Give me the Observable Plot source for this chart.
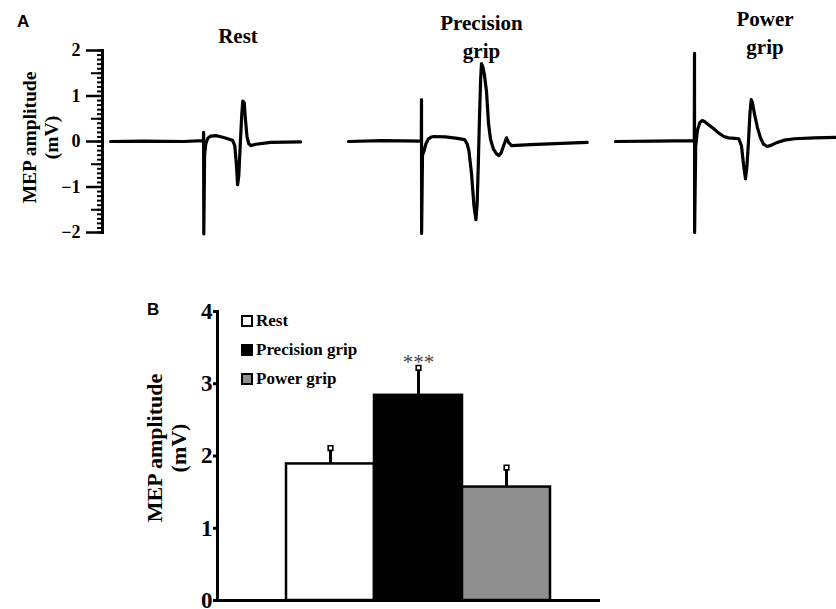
<!DOCTYPE html>
<html>
<head>
<meta charset="utf-8">
<script src="https://cdn.jsdelivr.net/npm/d3@7"></script>
<script src="https://cdn.jsdelivr.net/npm/@observablehq/plot@0.6"></script>
<style>
  body { margin: 0; background: #fff; }
  #root { position: relative; width: 836px; height: 609px; overflow: hidden; font-family: "Liberation Serif", "Times New Roman", serif; color: #000; }
  .abs { position: absolute; }
  .panel { font-family: "Liberation Sans", Arial, sans-serif; font-weight: bold; font-size: 17px; line-height: 1; }
  .title { font-weight: bold; font-size: 21px; text-align: center; line-height: 28px; white-space: nowrap; }
  .ylab { font-weight: bold; text-align: center; white-space: nowrap; transform: rotate(-90deg); transform-origin: 50% 50%; }
  .leg { display: flex; align-items: center; height: 18px; font-weight: bold; font-size: 17px; white-space: nowrap; }
  .sw { width: 8px; height: 8px; border: 2px solid #000; margin-right: 3px; }
  svg { overflow: visible; }
  svg text { font-family: "Liberation Serif", "Times New Roman", serif; }
</style>
</head>
<body>
<div id="root"></div>
<script>
// ---------- Panel A: MEP traces (time in ms relative to stimulus, amplitude in mV) ----------
const restTime = [-46.6, -30, -10, -0.2, -0.1, 0, 0.4, 1, 2, 3.5, 6, 9, 12, 14.5, 15.5, 16.3, 16.9, 17.5, 18.3, 19, 19.5, 20.2, 20.8, 21.6, 22.5, 23.5, 26, 33.4, 48.4];
const restMV   = [0, 0.01, 0, 0.02, 0.2, -2.03, -0.3, -0.05, 0.07, 0.12, 0.13, 0.1, 0.06, 0.02, -0.1, -0.5, -0.95, -0.75, 0, 0.6, 0.89, 0.85, 0.5, 0.1, -0.05, -0.09, -0.06, -0.02, -0.01];

const precisionTime = [-36.5, -20, -0.1, 0, 0.05, 0.5, 1.2, 2.2, 3.5, 5, 6.2, 12, 18, 21.5, 22.8, 23.7, 25, 26.2, 27.2, 27.8, 28.4, 29, 29.6, 30, 30.6, 31.5, 32.5, 33.5, 34.5, 36, 37.5, 38.7, 39.8, 41, 42.5, 43.5, 45, 54.5, 70, 82.85];
const precisionMV   = [0, 0.02, 0.01, 0.92, -2.02, -0.3, -0.22, -0.05, 0.06, 0.1, 0.11, 0.1, 0.07, 0.04, -0.05, -0.2, -0.7, -1.4, -1.72, -1.4, -0.5, 0.54, 1.4, 1.71, 1.65, 1.45, 1.1, 0.4, 0.05, -0.17, -0.27, -0.31, -0.25, -0.1, 0.08, -0.02, -0.09, -0.07, -0.04, -0.02];

const powerTime = [-39.5, -20, -0.1, 0, 0.05, 0.6, 1.5, 2.7, 3.85, 5, 7, 9.65, 12, 14.65, 17, 20, 22.15, 23.5, 24.5, 25.5, 26.2, 27, 27.7, 28.35, 29, 30, 31.5, 33, 34.5, 36.35, 38.5, 41.35, 45, 50, 60, 71];
const powerMV   = [0, 0.01, 0.02, 1.94, -2.0, -0.1, 0.25, 0.42, 0.46, 0.44, 0.37, 0.28, 0.19, 0.11, 0.08, 0.07, 0.06, -0.1, -0.5, -0.82, -0.55, 0, 0.6, 0.92, 0.85, 0.6, 0.3, 0.08, -0.06, -0.11, -0.08, -0.02, 0.03, 0.06, 0.08, 0.09];

const traceTitles = ["Rest", "Precision grip", "Power grip"];
const majorTicksA = [-2, -1, 0, 1, 2];
const halfTicksA = [-1.5, -0.5, 0.5, 1.5];
const minorTicksA = d3.ticks(-2, 2, 40);

// ---------- Panel B: mean MEP amplitude ----------
const conditions = ["Rest", "Precision grip", "Power grip"];
const meanMEP = [1.89, 2.84, 1.57];
const errMEP  = [0.22, 0.38, 0.27];
const sigLabels = ["", "***", ""];
const ticksB = [0, 1, 2, 3, 4];
const barColors = ["#ffffff", "#000000", "#8f8f8f"];

const root = document.getElementById("root");
const serif = "Liberation Serif";
const minus = d => d < 0 ? "\u2212" + (-d) : String(d);
const blank = () => "";

function place(el, left, top, width) {
  const w = document.createElement("div");
  w.className = "abs";
  w.style.left = left + "px";
  w.style.top = top + "px";
  if (width) w.style.width = width + "px";
  w.appendChild(el);
  root.appendChild(w);
  return w;
}

function tracePlot(time, mv, width, marginLeft, domain, withAxis) {
  const data = time.map((t, i) => ({t, v: mv[i]}));
  const marks = [];
  if (withAxis) {
    marks.push(
      Plot.axisY(minorTicksA, {tickSize: 5, strokeWidth: 2, tickFormat: blank, label: null}),
      Plot.axisY(halfTicksA, {tickSize: 11, strokeWidth: 2, tickFormat: blank, label: null}),
      Plot.axisY(majorTicksA, {tickSize: 16, strokeWidth: 2.5, tickPadding: 6, tickFormat: minus, label: null,
        fontSize: 18, fontWeight: "bold", fontFamily: serif, color: "#000"}),
      Plot.frame({anchor: "left", strokeWidth: 3})
    );
  }
  marks.push(Plot.line(data, {x: "t", y: "v", stroke: "#000", strokeWidth: 3.2, strokeLinejoin: "round", strokeLinecap: "round"}));
  return Plot.plot({
    width, height: 240,
    marginLeft, marginRight: 0, marginTop: 50, marginBottom: 8,
    x: {domain, axis: null},
    y: {domain: [-2, 2], axis: null},
    style: {overflow: "visible", background: "transparent", color: "#000", fontFamily: serif, fontWeight: "bold"},
    marks
  });
}

place(tracePlot(restTime, restMV, 302, 102, [-50.65, 49.35], true), 0, 0, 302);
place(tracePlot(precisionTime, precisionMV, 260, 0, [-40.5, 89.5], false), 340, 0, 260);
place(tracePlot(powerTime, powerMV, 232, 0, [-45, 71], false), 604, 0, 232);

// Titles for traces
function addTitle(html, cx, top) {
  const d = document.createElement("div");
  d.className = "title";
  d.innerHTML = html;
  place(d, cx - 70, top, 140);
}
addTitle(traceTitles[0], 238, 22);
addTitle(traceTitles[1].replace(" ", "<br>"), 481.5, 9);
addTitle(traceTitles[2].replace(" ", "<br>"), 765, 5);

// Panel letters
function addText(cls, text, left, top) {
  const d = document.createElement("div");
  d.className = cls;
  d.textContent = text;
  place(d, left, top);
}
addText("panel", "A", 17, 13);
addText("panel", "B", 147, 301);

// Y labels
function addYLabel(cx, cy, fontSize, lineH, width) {
  const d = document.createElement("div");
  d.className = "ylab";
  d.style.fontSize = fontSize + "px";
  d.style.lineHeight = lineH + "px";
  d.style.width = width + "px";
  d.style.height = (2 * lineH) + "px";
  d.innerHTML = "MEP amplitude<br>(mV)";
  place(d, cx - width / 2, cy - lineH);
}
addYLabel(39.5, 137, 19.5, 21.5, 170);
addYLabel(167, 448, 22, 24, 200);

// ---------- Panel B plot ----------
const barData = conditions.map((c, i) => ({c, m: meanMEP[i], e: errMEP[i], s: sigLabels[i]}));
const plotB = Plot.plot({
  width: 610, height: 329,
  marginLeft: 217, marginRight: 10, marginTop: 31, marginBottom: 9,
  x: {domain: conditions, paddingInner: 0, paddingOuter: 0.668, align: 0.576, axis: null},
  y: {domain: [0, 4], axis: null},
  color: {domain: conditions, range: barColors},
  style: {overflow: "visible", background: "transparent", color: "#000", fontFamily: serif, fontWeight: "bold"},
  marks: [
    Plot.ruleX(barData, {x: "c", y1: "m", y2: d => d.m + d.e, stroke: "#000", strokeWidth: 3}),
    Plot.barY(barData, {x: "c", y: "m", fill: "c", stroke: "#000", strokeWidth: 2.5}),
    Plot.dot(barData, {x: "c", y: d => d.m + d.e, symbol: "square", r: 2.6, fill: "#fff", stroke: "#000", strokeWidth: 1.6}),
    Plot.text(barData, {x: "c", y: d => d.m + d.e, text: "s", lineAnchor: "bottom", dy: 1, fontSize: 21, fontFamily: serif, fontWeight: "normal", fill: "#444"}),
    Plot.ruleY([0], {stroke: "#000", strokeWidth: 3}),
    Plot.frame({anchor: "left", strokeWidth: 3}),
    Plot.axisY(ticksB, {tickSize: 4, strokeWidth: 3, tickPadding: 1, tickFormat: d => String(d), label: null,
      fontSize: 23, fontWeight: "bold", fontFamily: serif, color: "#000"})
  ]
});
place(plotB, 0, 280, 610);

// Legend for panel B
conditions.forEach((c, i) => {
  const row = document.createElement("div");
  row.className = "leg";
  const sw = document.createElement("div");
  sw.className = "sw";
  sw.style.background = barColors[i];
  const tx = document.createElement("span");
  tx.textContent = c;
  row.appendChild(sw);
  row.appendChild(tx);
  place(row, 241, 312 + i * 29);
});
</script>
</body>
</html>
